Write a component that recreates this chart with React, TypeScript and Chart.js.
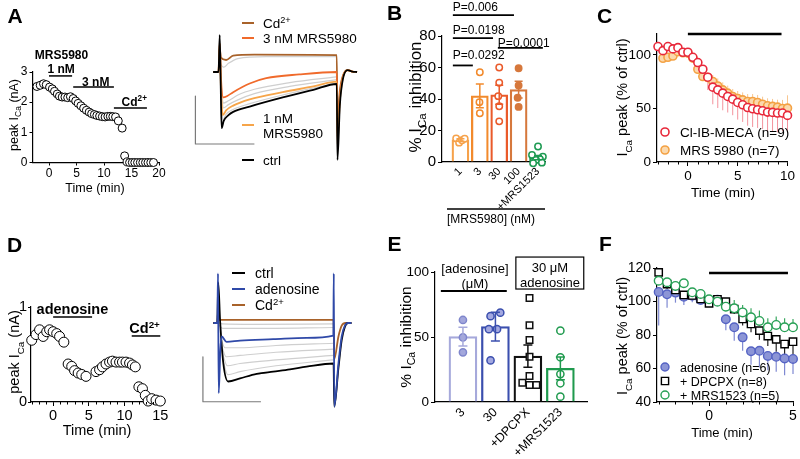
import React, { useEffect, useRef } from 'react';
import { Chart, registerables } from 'chart.js';

Chart.register(...registerables);

const FONT = '"Liberation Sans", Arial, Helvetica, sans-serif';
const BLACK = '#000000';

/* ================= DATA ================= */
/* ---- A: peak ICa time course (min, nA) ---- */
const timeA = [-2.2, -1.6, -1.0, -0.5, 0.1, 0.6, 1.0, 1.5, 1.9, 2.4, 2.9, 3.4, 3.9, 4.4, 4.85, 5.3, 5.8, 6.3, 6.8, 7.3, 7.75, 8.25, 8.7, 9.2, 9.7, 10.2, 10.7, 11.15, 11.6, 12.1, 12.6, 13.3, 13.75, 14.2, 14.65, 15.15, 15.6, 16.1, 16.6, 17.05, 17.55, 18.0, 18.5, 19.0];
const peakA = [2.52, 2.56, 2.61, 2.58, 2.5, 2.44, 2.36, 2.27, 2.2, 2.17, 2.17, 2.15, 2.18, 2.12, 2.04, 1.96, 1.88, 1.8, 1.73, 1.67, 1.62, 1.59, 1.56, 1.54, 1.52, 1.51, 1.53, 1.53, 1.52, 1.51, 1.38, 1.14, 0.22, 0.02, 0, 0, 0, 0, 0, 0, 0, 0, 0, 0];
const ticksAx = [0, 5, 10, 15, 20];
const ticksAy = [0, 1, 2, 3];

/* ---- A: current traces (ms, nA) ---- */
const traceCtrlA = [[2.5, 0], [4.8, 0], [5.3, 0.77], [5.7, -0.2], [6.1, -1.17], [7, -1.02], [9, -0.9], [11, -0.83], [18, -0.72], [32, -0.53], [45, -0.37], [54.9, -0.25], [55.2, -1.83], [56.2, -0.7], [57.5, -0.15], [59.5, 0.04], [61.5, 0.01], [63.5, 0]];
const trace1nMA = [[2.5, 0], [4.8, 0], [5.3, 0.6], [5.8, -0.3], [6.6, -0.9], [8, -0.8], [11, -0.7], [18, -0.57], [32, -0.42], [45, -0.3], [54.9, -0.2], [55.2, -1.5], [56.2, -0.6], [57.5, -0.12], [59.5, 0.04], [61.5, 0.01], [63.5, 0]];
const trace3nMA = [[2.5, 0], [4.8, 0], [5.3, 0.6], [5.8, -0.1], [6.8, -0.53], [8.5, -0.5], [11, -0.42], [18, -0.24], [25, -0.13], [39, -0.05], [54.9, 0], [55.2, -1.35], [56.2, -0.5], [57.5, -0.1], [59.5, 0.04], [61.5, 0.01], [63.5, 0]];
const traceCdA = [[2.5, 0], [4.8, 0], [5.3, 0.5], [5.8, 0.3], [8, 0.25], [11, 0.34], [20, 0.36], [54.9, 0.35], [55.2, -1.1], [56.2, -0.4], [57.5, -0.08], [59.5, 0.04], [61.5, 0.01], [63.5, 0]];
const traceGrayA1 = [[5.8, 0.15], [7, 0.1], [9, 0.18], [13, 0.28], [25, 0.32], [54.9, 0.32]];
const traceGrayA2 = [[5.8, -0.2], [6.8, -0.65], [9, -0.6], [13, -0.48], [20, -0.36], [35, -0.22], [54.9, -0.1]];
const traceGrayA3 = [[5.8, -0.25], [6.8, -0.75], [9, -0.68], [13, -0.58], [20, -0.45], [35, -0.3], [54.9, -0.16]];
const traceGrayA4 = [[5.8, -0.3], [6.6, -1.0], [8, -0.88], [11, -0.78], [18, -0.66], [32, -0.48], [54.9, -0.23]];
const scaleBarA = [[-5, -0.5], [-5, -1.5], [20, -1.5]];

/* ---- B: % inhibition by MRS5980 ---- */
const catB = [1, 2, 3, 4, 5];
const labelsB = ['1', '3', '30', '100', '+MRS1523'];
const meanB = [14, 42, 42.7, 46, 2.8];
const semB = [0.8, 7.6, 6.0, 5.3, 1.4];
const ptsB1x = [0.78, 0.93, 1.08, 1.22];
const ptsB1y = [15, 12.3, 13.8, 14.8];
const ptsB2x = [2.0, 1.98, 2.0];
const ptsB2y = [57, 38, 31];
const ptsB3x = [3.0, 3.0, 2.95, 3.0, 3.0];
const ptsB3y = [60, 50.3, 41.8, 35.4, 25.8];
const ptsB4x = [4.0, 4.0, 3.95, 4.0];
const ptsB4y = [59.5, 48.6, 40.8, 35];
const ptsB5x = [5.0, 4.69, 5.25, 5.1, 4.9, 4.75, 5.2];
const ptsB5y = [9.8, 4.5, 3.4, 1.7, 1.3, -0.8, -0.4];
const ticksBy = [0, 20, 40, 60, 80];

/* ---- C: normalized ICa time course ---- */
const timeC = [-3, -2.5, -2, -1.5, -1, -0.5, 0, 0.5, 1, 1.5, 2, 2.5, 3, 3.5, 4, 4.5, 5, 5.5, 6, 6.5, 7, 7.5, 8, 8.5, 9, 9.5, 10];
const clibC = [107.8, 104, 107.8, 105.6, 106.8, 102.5, 102.5, 97.8, 92.9, 86.6, 79.2, 69.9, 67.4, 64.3, 61.2, 58.7, 55.6, 53.4, 50.9, 49.7, 48.8, 47.8, 46.6, 46.3, 45.7, 45.7, 43.5];
const errClibC = [3, 4, 3, 3, 3, 2, 2, 3, 5, 8, 12, 16, 17, 16, 15, 15, 16, 16, 17, 17, 17, 17, 18, 18, 18, 17, 16];
const mrsC = [null, 96.9, 97.8, 99, 103, 102, 101.6, 97, 86.6, 79.8, 78.9, 75.2, 71, 67.4, 64.3, 61.2, 59.3, 58, 56.5, 56.5, 55.6, 54, 52.5, 51.9, 51.2, 50, 50.3];
const errMrsC = [0, 3, 3, 3, 2, 2, 2, 3, 4, 5, 5, 6, 7, 7, 7, 7, 7, 7, 7, 7, 7, 7, 7, 7, 7, 8, 12];
const ticksCx = [0, 5, 10];
const minorCx = [-3, -2, -1, 1, 2, 3, 4, 6, 7, 8, 9];
const ticksCy = [0, 50, 100];

/* ---- D: peak ICa time course, adenosine ---- */
const timeD = [-3.0, -2.4, -1.9, -1.4, -0.9, -0.5, 0.0, 0.5, 0.9, 1.5, 2.1, 2.6, 3.0, 3.5, 4.0, 4.6, 6.0, 6.5, 6.9, 7.4, 7.9, 8.3, 8.8, 9.3, 9.7, 10.2, 10.7, 11.1, 11.5, 12.0, 12.5, 12.9, 13.3, 13.8, 14.4, 15.0];
const peakD = [0.65, 0.71, 0.76, 0.69, 0.74, 0.76, 0.74, 0.72, 0.69, 0.63, 0.40, 0.375, 0.33, 0.305, 0.29, 0.27, 0.32, 0.34, 0.37, 0.40, 0.42, 0.43, 0.42, 0.42, 0.42, 0.42, 0.41, 0.39, 0.37, 0.16, 0.14, 0.07, 0.01, 0.035, 0.02, 0.01];
const ticksDx = [0, 5, 10, 15];
const minorDx = [-3, -2, -1, 1, 2, 3, 4, 6, 7, 8, 9, 11, 12, 13, 14];
const ticksDy = [0, 1];

/* ---- D: current traces (ms, nA) ---- */
const traceCtrlD = [[3, 0], [4.7, 0], [5.1, 0.9], [5.9, 0.05], [7.3, -0.9], [9.4, -1.3], [14.5, -1.23], [21.7, -1.13], [28.8, -1.08], [36, -1.03], [43.2, -0.97], [54.8, -0.9], [55.1, -1.86], [56.9, -1.0], [58.3, -0.38], [59.7, -0.08], [61, 0], [62.5, 0]];
const traceAdoD = [[3, 0], [4.7, 0], [5.0, 1.1], [5.3, -1.56], [6.0, -0.6], [6.6, -0.3], [8.7, -0.42], [14.5, -0.39], [28.8, -0.36], [43.2, -0.33], [54.7, -0.28], [54.9, 1.1], [55.1, -1.86], [56.9, -0.9], [58.3, -0.3], [59.7, -0.05], [61, 0], [62.5, 0]];
const traceCdD = [[3, 0], [4.7, 0], [5.1, 0.3], [5.6, 0.07], [20, 0.07], [54.8, 0.07], [55.1, -0.8], [56.9, -0.3], [58.3, -0.06], [60, 0], [62.5, 0]];
const traceGrayD1 = [[5.6, 0.0], [7, -0.02], [20, -0.03], [54.8, -0.02]];
const traceGrayD2 = [[5.6, -0.05], [7, -0.12], [20, -0.12], [54.8, -0.1]];
const traceGrayD3 = [[6, -0.3], [8, -0.55], [14.5, -0.55], [30, -0.5], [54.8, -0.45]];
const traceGrayD4 = [[6, -0.4], [8.5, -0.75], [14.5, -0.72], [30, -0.65], [54.8, -0.58]];
const traceGrayD5 = [[6.5, -0.6], [9, -0.95], [14.5, -0.9], [30, -0.82], [54.8, -0.72]];
const traceGrayD6 = [[7, -0.8], [9.2, -1.15], [14.5, -1.08], [30, -0.95], [54.8, -0.82]];
const scaleBarD = [[-1.5, -0.75], [-1.5, -1.75], [23.5, -1.75]];

/* ---- E: % inhibition by adenosine ---- */
const catE = [1, 2, 3, 4];
const labelsE = ['3', '30', '+DPCPX', '+MRS1523'];
const meanE = [50.3, 58, 35.3, 25.9];
const semE = [7.2, 11, 8.6, 8.8];
const ptsE1x = [1.0, 1.0, 1.0];
const ptsE1y = [63.1, 49.7, 38.2];
const ptsE2x = [2.15, 1.85, 1.8, 2.05, 1.85];
const ptsE2y = [68.7, 66, 56, 56, 32];
const ptsE3x = [3.05, 3.05, 3.05, 3.05, 3.05, 2.83, 3.05, 3.26];
const ptsE3y = [80, 59, 47.7, 34.9, 20, 14.9, 13, 13];
const ptsE4x = [4.0, 4.0, 4.0, 4.0, 4.0];
const ptsE4y = [54.9, 34.4, 21.5, 14.4, 4.1];
const ticksEy = [0, 50, 100];

/* ---- F: normalized ICa time course, adenosine ---- */
const timeF = [-3, -2.5, -2, -1.5, -1, -0.5, 0, 0.5, 1, 1.5, 2, 2.5, 3, 3.5, 4, 4.5, 5];
const adoF = [105.7, 104.3, 105.3, 102.9, 103.5, 100.9, 100.0, 101.0, 89.4, 84.6, 78.6, 70.3, 70.6, 67.5, 67.0, 66.0, 65.7];
const errAdoF = [20, 8, 6, 5, 4, 2, 2, 2, 6.5, 8, 8, 8, 10, 8.5, 9, 10, 9];
const dpcpxF = [117.4, 110.4, 106.9, 103.9, 103.6, 101.5, 98.9, 101.3, 99.9, 95.5, 89.6, 86.6, 82.6, 79.4, 77.4, 74.6, 76.0];
const errDpcpxF = [2, 3, 3, 2, 2, 2, 2, 2, 2, 3, 4, 5, 5.5, 6, 7.4, 6.6, 8];
const mrsF = [112.4, 111.5, 109.3, 110.9, 105.5, 104.5, 101.3, 99.9, 96.9, 95.9, 93.5, 90.6, 88.4, 84.6, 86.0, 84.6, 84.6];
const errMrsF = [2, 2, 2, 2, 2, 2, 2, 2, 3.4, 5, 4.4, 5.4, 6.2, 5.4, 5, 5.4, 5];
const ticksFx = [0, 5];
const minorFx = [-3, -2, -1, 1, 2, 3, 4];
const ticksFy = [40, 60, 80, 100, 120];

/* ================= COLOURS ================= */
const C_CD = '#a8622a';
const C_3NM = '#f06a2b';
const C_1NM = '#f6a54a';
const C_GRAY = '#cfcfcf';
const colorsB = ['#f6a24b', '#f28a2c', '#ea5a2a', '#d6783c', '#1d9a52'];
const C_RED = '#e8283a';
const C_ORANGE = '#f4a244';
const C_ADO = '#2f49a8';
const colorsE = ['#a6a9db', '#3b4fae', '#111111', '#1f9a4e'];
const C_GREEN = '#27a055';

/* ================= HELPERS ================= */
type Part = { t: string; sub?: boolean; sup?: boolean };

function drawRich(ctx: CanvasRenderingContext2D, parts: Part[], x: number, y: number, size: number, bold: boolean, align: string, rot: number, color: string) {
  const font = (s: number) => (bold ? 'bold ' : '') + s + 'px ' + FONT;
  const segs = parts.map((p) => {
    const s = p.sub || p.sup ? size * 0.68 : size;
    ctx.font = font(s);
    return { p, s, w: ctx.measureText(p.t).width };
  });
  const total = segs.reduce((a, g) => a + g.w, 0);
  let cx = align === 'center' ? -total / 2 : align === 'right' ? -total : 0;
  ctx.save();
  ctx.translate(x, y);
  if (rot) ctx.rotate(rot);
  ctx.fillStyle = color;
  ctx.textAlign = 'left';
  ctx.textBaseline = 'alphabetic';
  for (const g of segs) {
    ctx.font = font(g.s);
    const dy = g.p.sub ? size * 0.3 : g.p.sup ? -size * 0.38 : 0;
    ctx.fillText(g.p.t, cx, size * 0.36 + dy);
    cx += g.w;
  }
  ctx.restore();
}

function annotPlugin(items: any[], ox: number, oy: number) {
  const run = (chart: any, phase: string) => {
    const ctx: CanvasRenderingContext2D = chart.ctx;
    const xs = chart.scales.x;
    const ys = chart.scales.y;
    const pos = (it: any, x: number, y: number) => (it.px ? [x - ox, y - oy] : [xs.getPixelForValue(x), ys.getPixelForValue(y)]);
    ctx.save();
    for (const it of items) {
      if ((it.phase || 'after') !== phase) continue;
      const color = it.color || BLACK;
      if (it.kind === 'text') {
        const [px, py] = pos(it, it.x, it.y);
        drawRich(ctx, it.parts || [{ t: it.text }], px, py, it.size || 12, !!it.bold, it.align || 'center', it.rot || 0, color);
      } else if (it.kind === 'line') {
        ctx.beginPath();
        it.pts.forEach((p: number[], i: number) => {
          const [px, py] = pos(it, p[0], p[1]);
          if (i) ctx.lineTo(px, py);
          else ctx.moveTo(px, py);
        });
        ctx.strokeStyle = color;
        ctx.lineWidth = it.lw || 1;
        ctx.lineCap = 'butt';
        ctx.stroke();
      } else if (it.kind === 'rect') {
        const [x1, y1] = pos(it, it.x1, it.y1);
        const [x2, y2] = pos(it, it.x2, it.y2);
        ctx.strokeStyle = color;
        ctx.lineWidth = it.lw || 1;
        ctx.strokeRect(x1, y1, x2 - x1, y2 - y1);
      } else if (it.kind === 'mk') {
        const [px, py] = pos(it, it.x, it.y);
        ctx.beginPath();
        if (it.shape === 'square') ctx.rect(px - it.r, py - it.r, 2 * it.r, 2 * it.r);
        else ctx.arc(px, py, it.r, 0, Math.PI * 2);
        ctx.fillStyle = it.fill || '#ffffff';
        ctx.fill();
        ctx.strokeStyle = it.stroke || BLACK;
        ctx.lineWidth = it.lw || 1;
        ctx.stroke();
      } else if (it.kind === 'err') {
        const meta = chart.getDatasetMeta(it.ds);
        const data = chart.data.datasets[it.ds].data;
        ctx.lineWidth = it.lw || 1;
        meta.data.forEach((el: any, i: number) => {
          const d = data[i];
          const e = it.err[i];
          if (!d || d.y == null || !e) return;
          const x = el.x;
          const yc = ys.getPixelForValue(d.y);
          const yt = ys.getPixelForValue(d.y + e);
          const yb = ys.getPixelForValue(d.y - e);
          const y1 = it.dir === 'down' ? yc : yt;
          const y2 = it.dir === 'up' ? yc : yb;
          ctx.strokeStyle = Array.isArray(it.color) ? it.color[i] : color;
          ctx.beginPath();
          ctx.moveTo(x, y1);
          ctx.lineTo(x, y2);
          if (it.cap) {
            if (it.dir !== 'down') { ctx.moveTo(x - it.cap, yt); ctx.lineTo(x + it.cap, yt); }
            if (it.dir !== 'up') { ctx.moveTo(x - it.cap, yb); ctx.lineTo(x + it.cap, yb); }
          }
          ctx.stroke();
        });
      } else if (it.kind === 'minorX') {
        const a = chart.chartArea;
        ctx.strokeStyle = color;
        ctx.lineWidth = 1;
        for (const v of it.vals) {
          const px = Math.round(xs.getPixelForValue(v)) + 0.5;
          ctx.beginPath();
          ctx.moveTo(px, a.bottom);
          ctx.lineTo(px, a.bottom + it.len);
          ctx.stroke();
        }
      }
    }
    ctx.restore();
  };
  return {
    id: 'annot',
    beforeDatasetsDraw: (c: any) => run(c, 'before'),
    afterDatasetsDraw: (c: any) => run(c, 'after'),
  };
}

function axis(o: any) {
  return {
    type: 'linear',
    min: o.min,
    max: o.max,
    offset: false,
    afterBuildTicks: (ax: any) => {
      ax.ticks = o.ticks.map((v: number) => ({ value: v }));
    },
    afterFit: (ax: any) => {
      if (o.horiz) ax.height = o.fixed;
      else ax.width = o.fixed;
    },
    grid: {
      display: true,
      drawOnChartArea: false,
      drawTicks: !o.noTicks,
      tickLength: o.tickLen ?? 4,
      color: BLACK,
      tickColor: BLACK,
      lineWidth: 1,
      offset: false,
    },
    border: { display: true, color: BLACK, width: 1.2 },
    ticks: {
      color: BLACK,
      font: { family: FONT, size: o.size },
      padding: o.pad ?? 2,
      autoSkip: false,
      minRotation: o.rot ?? 0,
      maxRotation: o.rot ?? 0,
      callback: (v: number, i: number) => (o.labels ? o.labels[i] : String(v)),
    },
  };
}

function base(extra: any) {
  return {
    responsive: false,
    maintainAspectRatio: false,
    animation: false,
    devicePixelRatio: 1,
    events: [],
    plugins: { legend: { display: false }, tooltip: { enabled: false }, title: { display: false } },
    ...extra,
  };
}

const pts = (xs: number[], ys: (number | null)[]) => xs.map((x, i) => ({ x, y: ys[i] }));

const tr = (p: number[][], color: string, lw: number, order: number, mono = true) => ({
  type: 'line',
  data: p.map(([x, y]) => ({ x, y })),
  borderColor: color,
  borderWidth: lw,
  pointRadius: 0,
  fill: false,
  order,
  cubicInterpolationMode: mono ? 'monotone' : 'default',
  tension: 0,
  borderJoinStyle: 'round',
});

const scat = (data: any[], o: any) => ({
  type: 'scatter',
  data,
  pointRadius: o.r ?? 4,
  pointStyle: o.style || 'circle',
  backgroundColor: o.fill || '#ffffff',
  borderColor: o.stroke || BLACK,
  borderWidth: o.lw ?? 1,
  pointBackgroundColor: o.fill || '#ffffff',
  pointBorderColor: o.stroke || BLACK,
  pointBorderWidth: o.lw ?? 1,
  showLine: false,
  clip: false,
  order: o.order ?? 0,
});

const sub = (a: string, b: string, c: string): Part[] => [{ t: a }, { t: b, sub: true }, { t: c }];
const ROT = -Math.PI / 2;

/* ================= CHART CONFIGS ================= */
function makeA() {
  const items = [
    { kind: 'text', px: true, x: 15, y: 15, text: 'A', size: 21, bold: true },
    { kind: 'text', x: 2.27, y: 3.56, text: 'MRS5980', size: 12, bold: true },
    { kind: 'text', x: 2.2, y: 3.1, text: '1 nM', size: 12, bold: true },
    { kind: 'line', pts: [[0, 2.87], [4.2, 2.87]], lw: 1.5 },
    { kind: 'text', x: 8.5, y: 2.67, text: '3 nM', size: 12, bold: true },
    { kind: 'line', pts: [[4.4, 2.5], [11.8, 2.5]], lw: 1.5 },
    { kind: 'text', x: 15.5, y: 2.02, parts: [{ t: 'Cd' }, { t: '2+', sup: true }], size: 12, bold: true },
    { kind: 'line', pts: [[11.8, 1.81], [17.8, 1.81]], lw: 1.5 },
    { kind: 'text', px: true, x: 13, y: 115, parts: sub('peak I', 'Ca', ' (nA)'), size: 12.5, rot: ROT },
    { kind: 'text', px: true, x: 95, y: 187, text: 'Time (min)', size: 12.5 },
  ];
  return {
    type: 'scatter',
    data: { datasets: [scat(pts(timeA, peakA), { r: 4, lw: 1 })] },
    options: base({
      layout: { padding: { left: 0, right: 29, top: 72, bottom: 0 } },
      scales: {
        x: axis({ min: -3, max: 20, ticks: ticksAx, size: 12, fixed: 67.5, horiz: true, tickLen: 3, pad: 1 }),
        y: axis({ min: 0, max: 3, ticks: ticksAy, size: 12, fixed: 32.5, horiz: false, tickLen: 3, pad: 2 }),
      },
    }),
    plugins: [annotPlugin(items, 0, 0)],
  };
}

function makeATrace() {
  const items = [
    { kind: 'line', px: true, pts: [[242, 23], [254, 23]], color: C_CD, lw: 2 },
    { kind: 'text', px: true, x: 263, y: 23, parts: [{ t: 'Cd' }, { t: '2+', sup: true }], size: 13.5, align: 'left' },
    { kind: 'line', px: true, pts: [[242, 38], [254, 38]], color: C_3NM, lw: 2 },
    { kind: 'text', px: true, x: 263, y: 38, text: '3 nM MRS5980', size: 13.5, align: 'left' },
    { kind: 'line', px: true, pts: [[242, 125], [254, 125]], color: C_1NM, lw: 2 },
    { kind: 'text', px: true, x: 263, y: 118, text: '1 nM', size: 13.5, align: 'left' },
    { kind: 'text', px: true, x: 263, y: 133, text: 'MRS5980', size: 13.5, align: 'left' },
    { kind: 'line', px: true, pts: [[242, 160], [254, 160]], color: BLACK, lw: 2 },
    { kind: 'text', px: true, x: 263, y: 160, text: 'ctrl', size: 13.5, align: 'left' },
  ];
  return {
    type: 'line',
    data: {
      datasets: [
        tr(traceCtrlA, BLACK, 1.8, 0),
        tr(trace1nMA, C_1NM, 1.8, 1),
        tr(trace3nMA, C_3NM, 1.8, 2),
        tr(traceCdA, C_CD, 1.8, 3),
        tr(traceGrayA1, C_GRAY, 1.2, 5),
        tr(traceGrayA2, C_GRAY, 1.2, 5),
        tr(traceGrayA3, C_GRAY, 1.2, 5),
        tr(traceGrayA4, C_GRAY, 1.2, 5),
        tr(scaleBarA, '#7a7a7a', 1.2, 6, false),
      ],
    },
    options: base({
      layout: { padding: 0 },
      scales: {
        x: { type: 'linear', display: false, min: -8.14, max: 68.14 },
        y: { type: 'linear', display: false, min: -2.146, max: 1.5 },
      },
    }),
    plugins: [annotPlugin(items, 188, 0)],
  };
}

function makeB() {
  const items = [
    { kind: 'text', px: true, x: 394.5, y: 12.5, text: 'B', size: 21, bold: true },
    { kind: 'text', x: 0.61, y: 98.4, text: 'P=0.006', size: 12, align: 'left' },
    { kind: 'line', pts: [[0.61, 93.3], [3.76, 93.3]], lw: 1.8 },
    { kind: 'text', x: 0.61, y: 83.8, text: 'P=0.0198', size: 12, align: 'left' },
    { kind: 'line', pts: [[0.61, 78.7], [2.68, 78.7]], lw: 1.8 },
    { kind: 'text', x: 2.93, y: 75.6, text: 'P=0.0001', size: 12, align: 'left' },
    { kind: 'line', pts: [[2.93, 72.4], [5.25, 72.4]], lw: 1.8 },
    { kind: 'text', x: 0.61, y: 67.9, text: 'P=0.0292', size: 12, align: 'left' },
    { kind: 'line', pts: [[0.61, 61.3], [1.64, 61.3]], lw: 1.8 },
    { kind: 'line', px: true, pts: [[447, 209], [545, 209]], lw: 1.5 },
    { kind: 'text', px: true, x: 447, y: 219, text: '[MRS5980] (nM)', size: 12, align: 'left' },
    { kind: 'text', px: true, x: 415, y: 97, parts: sub('% I', 'Ca', ' inhibition'), size: 17, rot: ROT },
    { kind: 'err', ds: 0, err: semB, dir: 'both', cap: 4, color: colorsB, lw: 1.5 },
  ];
  return {
    type: 'bar',
    data: {
      datasets: [
        {
          type: 'bar',
          data: pts(catB, meanB),
          borderColor: colorsB,
          backgroundColor: 'rgba(255,255,255,0)',
          borderWidth: 1.6,
          barThickness: 17,
          grouped: false,
          order: 5,
        },
        scat(pts(ptsB1x, ptsB1y), { r: 3.2, stroke: colorsB[0], lw: 1.5 }),
        scat(pts(ptsB2x, ptsB2y), { r: 3.2, stroke: colorsB[1], lw: 1.5 }),
        scat(pts(ptsB3x, ptsB3y), { r: 3.2, stroke: colorsB[2], lw: 1.5 }),
        scat(pts(ptsB4x, ptsB4y), { r: 3.2, stroke: colorsB[3], fill: colorsB[3], lw: 1.5 }),
        scat(pts(ptsB5x, ptsB5y), { r: 3.2, stroke: colorsB[4], lw: 1.5 }),
      ],
    },
    options: base({
      layout: { padding: { left: 0, right: 25, top: 36, bottom: 0 } },
      scales: {
        x: axis({ min: 0.05, max: 5.36, ticks: catB, labels: labelsB, size: 11, fixed: 68, horiz: true, noTicks: true, pad: 3, rot: 45 }),
        y: axis({ min: 0, max: 80, ticks: ticksBy, size: 15, fixed: 72, horiz: false, tickLen: 4, pad: 2 }),
      },
    }),
    plugins: [annotPlugin(items, 370, 0)],
  };
}

function makeC() {
  const items = [
    { kind: 'text', px: true, x: 604.5, y: 15, text: 'C', size: 21, bold: true },
    { kind: 'line', pts: [[0, 119.6], [9.4, 119.6]], lw: 2.5 },
    { kind: 'err', ds: 0, err: errClibC, dir: 'down', color: '#f3939c', lw: 1, phase: 'before' },
    { kind: 'err', ds: 1, err: errMrsC, dir: 'up', color: '#f8c690', lw: 1, phase: 'before' },
    { kind: 'minorX', vals: minorCx, len: 2.5 },
    { kind: 'mk', px: true, x: 665, y: 132, r: 4, stroke: C_RED, fill: '#ffffff', lw: 1.6 },
    { kind: 'text', px: true, x: 680, y: 132, text: 'Cl-IB-MECA (n=9)', size: 13.5, align: 'left' },
    { kind: 'mk', px: true, x: 665, y: 150, r: 4, stroke: C_ORANGE, fill: '#fbd9ad', lw: 1.6 },
    { kind: 'text', px: true, x: 680, y: 150, text: 'MRS 5980 (n=7)', size: 13.5, align: 'left' },
    { kind: 'text', px: true, x: 622, y: 97.5, parts: sub('I', 'Ca', ' peak (% of ctrl)'), size: 14.5, rot: ROT },
    { kind: 'text', px: true, x: 723, y: 192, text: 'Time (min)', size: 13.5 },
  ];
  return {
    type: 'scatter',
    data: {
      datasets: [
        scat(pts(timeC, clibC), { r: 4, stroke: C_RED, lw: 1.6, order: 0 }),
        scat(pts(timeC, mrsC), { r: 4, stroke: C_ORANGE, fill: '#fbd9ad', lw: 1.6, order: 1 }),
      ],
    },
    options: base({
      layout: { padding: { left: 0, right: 12.5, top: 33.5, bottom: 0 } },
      scales: {
        x: axis({ min: -3.1, max: 10, ticks: ticksCx, size: 13.5, fixed: 68, horiz: true, tickLen: 4, pad: 2 }),
        y: axis({ min: 0, max: 120, ticks: ticksCy, size: 13.5, fixed: 87, horiz: false, tickLen: 4, pad: 2 }),
      },
    }),
    plugins: [annotPlugin(items, 570, 0)],
  };
}

function makeD() {
  const items = [
    { kind: 'text', px: true, x: 14.5, y: 244, text: 'D', size: 21, bold: true },
    { kind: 'text', x: 2.7, y: 0.98, text: 'adenosine', size: 14.5, bold: true },
    { kind: 'line', pts: [[0, 0.895], [5.45, 0.895]], lw: 1.5 },
    { kind: 'text', x: 12.8, y: 0.78, parts: [{ t: 'Cd' }, { t: '2+', sup: true }], size: 14.5, bold: true },
    { kind: 'line', pts: [[11.0, 0.695], [15.0, 0.695]], lw: 1.5 },
    { kind: 'minorX', vals: minorDx, len: 2.5 },
    { kind: 'text', px: true, x: 14, y: 352, parts: sub('peak I', 'Ca', ' (nA)'), size: 14.5, rot: ROT },
    { kind: 'text', px: true, x: 97, y: 430, text: 'Time (min)', size: 14.5 },
  ];
  return {
    type: 'scatter',
    data: { datasets: [scat(pts(timeD, peakD), { r: 5, lw: 1 })] },
    options: base({
      layout: { padding: { left: 0, right: 27.7, top: 77, bottom: 0 } },
      scales: {
        x: axis({ min: -3.1, max: 15, ticks: ticksDx, size: 14.5, fixed: 57, horiz: true, tickLen: 4, pad: 1 }),
        y: axis({ min: 0, max: 1, ticks: ticksDy, size: 14.5, fixed: 31, horiz: false, tickLen: 3, pad: 1 }),
      },
    }),
    plugins: [annotPlugin(items, 0, 230)],
  };
}

function makeDTrace() {
  const items = [
    { kind: 'line', px: true, pts: [[232, 273], [245, 273]], color: BLACK, lw: 2 },
    { kind: 'text', px: true, x: 255, y: 273, text: 'ctrl', size: 14, align: 'left' },
    { kind: 'line', px: true, pts: [[232, 289], [245, 289]], color: C_ADO, lw: 2 },
    { kind: 'text', px: true, x: 255, y: 289, text: 'adenosine', size: 14, align: 'left' },
    { kind: 'line', px: true, pts: [[232, 305], [245, 305]], color: C_CD, lw: 2 },
    { kind: 'text', px: true, x: 255, y: 305, parts: [{ t: 'Cd' }, { t: '2+', sup: true }], size: 14, align: 'left' },
  ];
  return {
    type: 'line',
    data: {
      datasets: [
        tr(traceAdoD, C_ADO, 1.8, 0),
        tr(traceCtrlD, BLACK, 1.8, 1),
        tr(traceCdD, C_CD, 1.8, 2),
        tr(traceGrayD1, C_GRAY, 1.2, 5),
        tr(traceGrayD2, C_GRAY, 1.2, 5),
        tr(traceGrayD3, C_GRAY, 1.2, 5),
        tr(traceGrayD4, C_GRAY, 1.2, 5),
        tr(traceGrayD5, C_GRAY, 1.2, 5),
        tr(traceGrayD6, C_GRAY, 1.2, 5),
        tr(scaleBarD, '#7a7a7a', 1.2, 6, false),
      ],
    },
    options: base({
      layout: { padding: 0 },
      scales: {
        x: { type: 'linear', display: false, min: -7.07, max: 70.5 },
        y: { type: 'linear', display: false, min: -3.022, max: 2.067 },
      },
    }),
    plugins: [annotPlugin(items, 190, 230)],
  };
}

function makeE() {
  const items = [
    { kind: 'text', px: true, x: 394.5, y: 243.5, text: 'E', size: 21, bold: true },
    { kind: 'text', x: 1.37, y: 103, text: '[adenosine]', size: 13 },
    { kind: 'text', x: 1.37, y: 91.5, text: '(μM)', size: 13 },
    { kind: 'line', pts: [[0.32, 85.4], [2.35, 85.4]], lw: 2 },
    { kind: 'rect', x1: 2.63, y1: 111.5, x2: 4.72, y2: 86.9, lw: 1.2 },
    { kind: 'text', x: 3.68, y: 103.8, text: '30 μM', size: 13 },
    { kind: 'text', x: 3.68, y: 92.3, text: 'adenosine', size: 13 },
    { kind: 'err', ds: 0, err: semE, dir: 'both', cap: 4.5, color: colorsE, lw: 1.5 },
    { kind: 'text', px: true, x: 405, y: 337, parts: sub('% I', 'Ca', ' inhibition'), size: 15.5, rot: ROT },
  ];
  return {
    type: 'bar',
    data: {
      datasets: [
        {
          type: 'bar',
          data: pts(catE, meanE),
          borderColor: colorsE,
          backgroundColor: 'rgba(255,255,255,0)',
          borderWidth: 1.6,
          barThickness: 28,
          grouped: false,
          order: 5,
        },
        scat(pts(ptsE1x, ptsE1y), { r: 3.6, stroke: '#7f86cc', fill: '#a3a7dc', lw: 1.5 }),
        scat(pts(ptsE2x, ptsE2y), { r: 3.6, stroke: '#3b4fae', fill: '#a3a8e0', lw: 1.5 }),
        scat(pts(ptsE3x, ptsE3y), { r: 4.6, style: 'rect', stroke: '#111111', lw: 1.5 }),
        scat(pts(ptsE4x, ptsE4y), { r: 3.6, stroke: colorsE[3], lw: 1.5 }),
      ],
    },
    options: base({
      layout: { padding: { left: 0, right: 13, top: 42, bottom: 0 } },
      scales: {
        x: axis({ min: 0.14, max: 4.82, ticks: catE, labels: labelsE, size: 12.5, fixed: 57, horiz: true, noTicks: true, pad: 3, rot: 45 }),
        y: axis({ min: 0, max: 100, ticks: ticksEy, size: 13.5, fixed: 65, horiz: false, tickLen: 4, pad: 2 }),
      },
    }),
    plugins: [annotPlugin(items, 370, 230)],
  };
}

function makeF() {
  const items = [
    { kind: 'text', px: true, x: 605.5, y: 243, text: 'F', size: 21, bold: true },
    { kind: 'line', pts: [[0, 117], [4.7, 117]], lw: 2.5 },
    { kind: 'err', ds: 0, err: errAdoF, dir: 'down', color: '#7f89d2', lw: 1.2, phase: 'before' },
    { kind: 'err', ds: 1, err: errDpcpxF, dir: 'down', color: '#222222', lw: 1.2, phase: 'before' },
    { kind: 'err', ds: 2, err: errMrsF, dir: 'up', color: '#3aa860', lw: 1.2, phase: 'before' },
    { kind: 'minorX', vals: minorFx, len: 2.5 },
    { kind: 'mk', px: true, x: 665, y: 367, r: 4, stroke: '#5563c4', fill: '#8c95d6', lw: 1.4 },
    { kind: 'text', px: true, x: 680, y: 367, text: 'adenosine (n=6)', size: 12.5, align: 'left' },
    { kind: 'mk', px: true, x: 665, y: 381, r: 3.6, shape: 'square', stroke: BLACK, fill: '#ffffff', lw: 1.4 },
    { kind: 'text', px: true, x: 680, y: 381, text: '+ DPCPX (n=8)', size: 12.5, align: 'left' },
    { kind: 'mk', px: true, x: 665, y: 395, r: 4, stroke: C_GREEN, fill: '#ffffff', lw: 1.4 },
    { kind: 'text', px: true, x: 680, y: 395, text: '+ MRS1523 (n=5)', size: 12.5, align: 'left' },
    { kind: 'text', px: true, x: 622, y: 336, parts: sub('I', 'Ca', ' peak (% of ctrl)'), size: 14.5, rot: ROT },
    { kind: 'text', px: true, x: 722, y: 432, text: 'Time (min)', size: 13 },
  ];
  return {
    type: 'scatter',
    data: {
      datasets: [
        scat(pts(timeF, adoF), { r: 4.3, stroke: '#5563c4', fill: '#8c95d6', lw: 1.4, order: 2 }),
        scat(pts(timeF, dpcpxF), { r: 5.2, style: 'rect', stroke: BLACK, lw: 1.4, order: 1 }),
        scat(pts(timeF, mrsF), { r: 4.3, stroke: C_GREEN, lw: 1.4, order: 0 }),
      ],
    },
    options: base({
      layout: { padding: { left: 0, right: 7, top: 38, bottom: 0 } },
      scales: {
        x: axis({ min: -3.1, max: 5, ticks: ticksFx, size: 14, fixed: 57, horiz: true, tickLen: 4, pad: 2 }),
        y: axis({ min: 40, max: 120, ticks: ticksFy, size: 14, fixed: 87, horiz: false, tickLen: 4, pad: 2 }),
      },
    }),
    plugins: [annotPlugin(items, 570, 230)],
  };
}

/* ================= COMPONENTS ================= */
function ChartBox({ x, y, w, h, make }: { x: number; y: number; w: number; h: number; make: () => any }) {
  const ref = useRef<HTMLCanvasElement | null>(null);
  useEffect(() => {
    if (!ref.current) return;
    const chart = new Chart(ref.current, make());
    return () => chart.destroy();
  }, []);
  return (
    <canvas
      ref={ref}
      width={w}
      height={h}
      style={{ position: 'absolute', left: x, top: y, width: w, height: h }}
    />
  );
}

export default function App() {
  return (
    <div style={{ position: 'absolute', left: 0, top: 0, width: 800, height: 459, background: '#ffffff', overflow: 'hidden' }}>
      <ChartBox x={0} y={0} w={188} h={230} make={makeA} />
      <ChartBox x={188} y={0} w={180} h={175} make={makeATrace} />
      <ChartBox x={370} y={0} w={200} h={230} make={makeB} />
      <ChartBox x={570} y={0} w={230} h={230} make={makeC} />
      <ChartBox x={0} y={230} w={188} h={229} make={makeD} />
      <ChartBox x={190} y={230} w={180} h={229} make={makeDTrace} />
      <ChartBox x={370} y={230} w={230} h={229} make={makeE} />
      <ChartBox x={570} y={230} w={230} h={229} make={makeF} />
    </div>
  );
}
